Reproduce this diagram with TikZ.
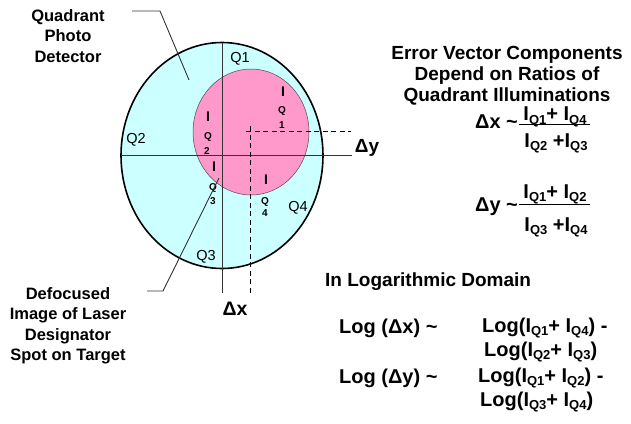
\documentclass[tikz,border=0pt]{standalone}
\usepackage{fontspec}
\setmainfont{Liberation Sans}
\usetikzlibrary{shapes.geometric}
\definecolor{detcyan}{RGB}{204,255,255}
\definecolor{spotpink}{RGB}{255,153,204}
\definecolor{leadgray}{RGB}{51,51,51}
\newcommand\Isb[1]{I\raisebox{-3.5pt}{\fontsize{13}{13}\selectfont Q#1}}
\begin{document}
\begin{tikzpicture}[x=1pt,y=-1pt,
  lbl/.style={inner sep=0pt,font=\fontsize{16.5}{20.5}\selectfont\bfseries,align=center},
  qlbl/.style={inner sep=0pt,font=\fontsize{14.5}{16}\selectfont},
  bigI/.style={inner sep=0pt,font=\fontsize{14}{14}\selectfont\bfseries},
  smallq/.style={inner sep=0pt,font=\fontsize{10}{10}\selectfont\bfseries},
  rtxt/.style={inner sep=0pt,font=\fontsize{19}{21}\selectfont\bfseries,align=center},
  eqtxt/.style={inner sep=0pt,font=\fontsize{20}{24}\selectfont\bfseries},
  leader/.style={draw=leadgray,line width=0.9pt},
  axis/.style={draw=black!80,line width=0.8pt},
  daxis/.style={draw=black,line width=0.9pt,dash pattern=on 5pt off 3.5pt}]
\useasboundingbox (0,0) rectangle (631,423);
% detector
\node[draw=black,line width=1.6pt,fill=detcyan,ellipse,minimum width=202pt,minimum height=226pt,inner sep=0pt] (det) at (222,155.5) {};
\node[draw=black!70,line width=0.5pt,fill=spotpink,ellipse,minimum width=116pt,minimum height=126pt,inner sep=0pt] (spot) at (251,132) {};
% axes
\coordinate (vt) at (222,43);
\coordinate (vb) at (222,293);
\coordinate (hl) at (121,155.5);
\coordinate (hr) at (352,155.5);
\draw[axis] (vt) -- (vb);
\draw[axis] (hl) -- (hr);
\coordinate (dxt) at (250,126);
\coordinate (dxb) at (250,295);
\coordinate (dyl) at (246,131);
\coordinate (dyr) at (351,131);
\draw[daxis] (dxt) -- (dxb);
\draw[daxis] (dyl) -- (dyr);
% quadrant labels
\node[qlbl] (q1) at (240,59) {Q1};
\node[qlbl] (q2) at (136,140) {Q2};
\node[qlbl] (q3) at (206,257) {Q3};
\node[qlbl] (q4) at (298,208) {Q4};
% illumination labels
\node[bigI] (i1a) at (283,92) {I};
\node[smallq] (i1b) at (282,111) {Q};
\node[smallq] (i1c) at (282,125) {1};
\node[bigI] (i2a) at (208,117) {I};
\node[smallq] (i2b) at (208,137) {Q};
\node[smallq] (i2c) at (207,151) {2};
\node[bigI] (i3a) at (214,167) {I};
\node[smallq] (i3b) at (213,188) {Q};
\node[smallq] (i3c) at (213,201) {3};
\node[bigI] (i4a) at (266,180) {I};
\node[smallq] (i4b) at (265,202) {Q};
\node[smallq] (i4c) at (265,213) {4};
% left labels and leaders
\node[lbl] (qpd) at (68,36) {Quadrant\\Photo\\Detector};
\coordinate (l1a) at (132,11);
\coordinate (l1b) at (160,11);
\coordinate (l1c) at (189,80);
\draw[leader] (l1a) -- (l1b) -- (l1c);
\node[lbl] (defo) at (68,326) {Defocused\\Image of Laser\\Designator\\Spot on Target};
\coordinate (l2a) at (147,291);
\coordinate (l2b) at (163,291);
\coordinate (l2c) at (219,178);
\draw[leader] (l2a) -- (l2b) -- (l2c);
% delta labels
\node[inner sep=0pt,font=\fontsize{19.5}{20}\selectfont\bfseries] (dxl) at (235,309) {Δx};
\node[inner sep=0pt,font=\fontsize{19}{20}\selectfont\bfseries] (dyl2) at (367,148) {Δy};
% right text
\node[rtxt] (title) at (507,76) {Error Vector Components\\Depend on Ratios of\\Quadrant Illuminations};
\node[eqtxt,anchor=base west] (dxs) at (475,128) {Δx \textasciitilde};
\node[eqtxt,anchor=base] (dxn) at (555,120.5) {\Isb1+ \Isb4};
\node[eqtxt,anchor=base] (dxd) at (556,147) {\Isb2 +\Isb3};
\coordinate (fx1) at (519,124);
\coordinate (fx2) at (590,124);
\draw[line width=1pt] (fx1) -- (fx2);
\node[eqtxt,anchor=base west] (dys) at (475,211) {Δy \textasciitilde};
\node[eqtxt,anchor=base] (dyn) at (555,198) {\Isb1+ \Isb2};
\node[eqtxt,anchor=base] (dyd) at (556,231) {\Isb3 +\Isb4};
\coordinate (fy1) at (519,204);
\coordinate (fy2) at (590,204);
\draw[line width=1pt] (fy1) -- (fy2);
% logarithmic domain
\node[rtxt,anchor=west] (logt) at (325,282) {In Logarithmic Domain};
\node[eqtxt,anchor=west] (lx) at (339,328) {Log (Δx) \textasciitilde};
\node[eqtxt,anchor=west] (lx1) at (482,328) {Log(\Isb1+ \Isb4) -};
\node[eqtxt,anchor=west] (lx2) at (484,352) {Log(\Isb2+ \Isb3)};
\node[eqtxt,anchor=west] (ly) at (339,378) {Log (Δy) \textasciitilde};
\node[eqtxt,anchor=west] (ly1) at (478,378) {Log(\Isb1+ \Isb2) -};
\node[eqtxt,anchor=west] (ly2) at (480,402) {Log(\Isb3+ \Isb4)};
\end{tikzpicture}
\end{document}
